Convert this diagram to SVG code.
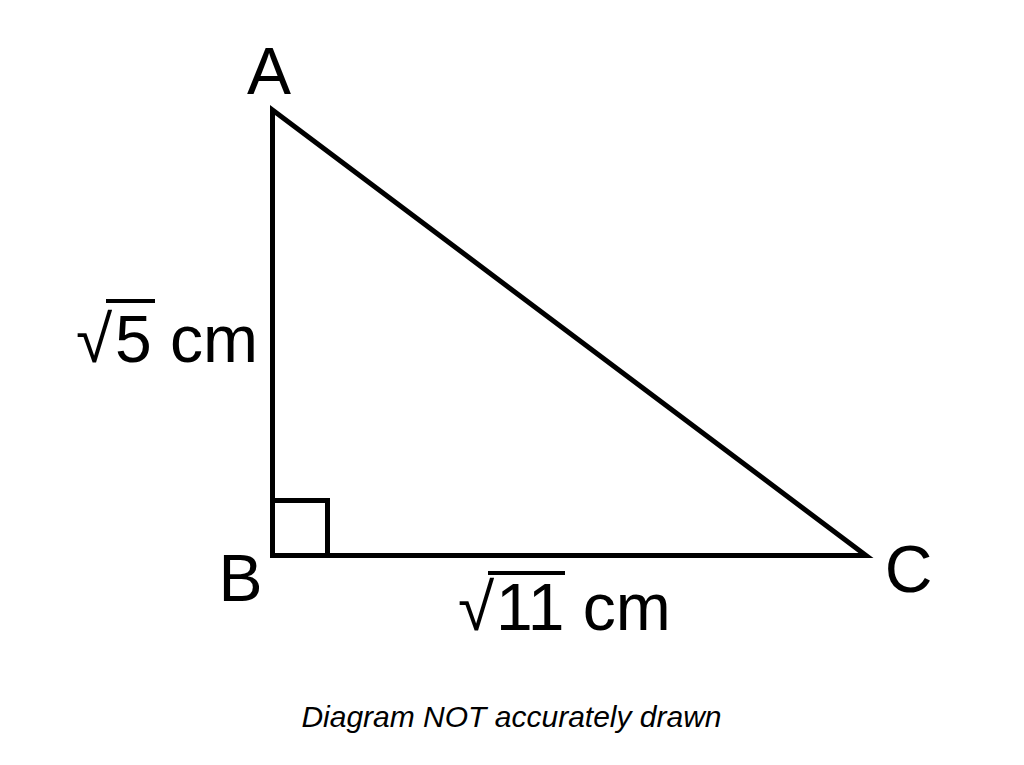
<svg xmlns="http://www.w3.org/2000/svg" width="1024" height="765" viewBox="0 0 1024 765">
<style>
.lbl{font-family:"Liberation Sans",Arial,sans-serif;font-size:66px;fill:#000}
.edge{fill:none;stroke:#000;stroke-width:5}
.note{font-family:"Liberation Sans",Arial,sans-serif;font-size:30px;font-style:italic;fill:#000}
</style>
<rect width="1024" height="765" fill="#fff"/>
<g id="connectors">
<polygon class="edge" points="272.5,110 272.5,555.5 866,555.5"/>
<polyline class="edge" points="272.5,500.5 327.5,500.5 327.5,555.5"/>
</g>
<g id="node-A"><text class="lbl" x="269" y="94" text-anchor="middle">A</text></g>
<g id="node-B"><text class="lbl" x="240.5" y="601" text-anchor="middle">B</text></g>
<g id="node-C"><text class="lbl" x="908.5" y="592" text-anchor="middle">C</text></g>
<g id="label-AB">
<text class="lbl" x="76" y="362">√</text>
<line x1="106" y1="301" x2="155" y2="301" stroke="#000" stroke-width="4"/>
<text class="lbl" x="115" y="362">5 cm</text>
</g>
<g id="label-BC">
<text class="lbl" x="458" y="630">√</text>
<line x1="488" y1="573" x2="565" y2="573" stroke="#000" stroke-width="4"/>
<text class="lbl" x="496" y="630">11 cm</text>
</g>
<g id="note"><text class="note" x="511.5" y="727" text-anchor="middle">Diagram NOT accurately drawn</text></g>
</svg>
